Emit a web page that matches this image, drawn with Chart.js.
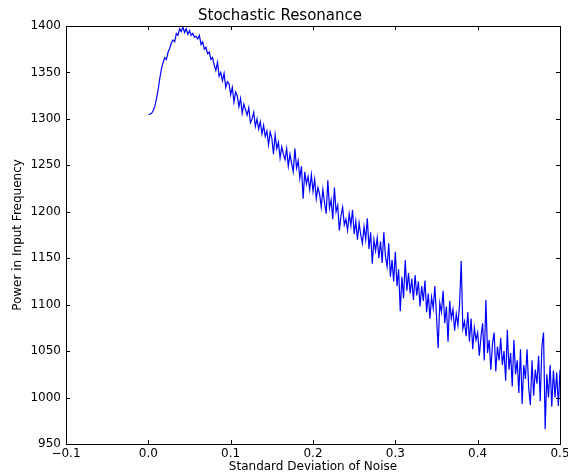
<!DOCTYPE html>
<html>
<head>
<meta charset="utf-8">
<title>Stochastic Resonance</title>
<script src="https://cdn.jsdelivr.net/npm/chart.js@4/dist/chart.umd.min.js"></script>
<style>
    html, body { margin: 0; padding: 0; background: #fff; }
    canvas { display: block; }
</style>
</head>
<body>
<canvas id="chart" width="568" height="474"></canvas>
<script>
// Noise levels start at 0 and go up in steps of 0.002
const noiseStart = 0;
const noiseStep = 0.002;

// Power in the input frequency
const powerValues = [
    1305, 1305, 1306, 1309, 1314, 1322, 1332, 1344, 1354, 1361,
    1366, 1364, 1372, 1376, 1382, 1385, 1383, 1392, 1390, 1397,
    1394, 1399, 1393, 1397, 1391, 1395, 1390, 1392, 1388, 1389,
    1386, 1390, 1380, 1383, 1375, 1377, 1370, 1372, 1364, 1366,
    1358, 1352, 1361, 1346, 1350, 1341, 1349, 1334, 1340, 1338,
    1326, 1334, 1318, 1329, 1325, 1313, 1322, 1306, 1316, 1310,
    1304, 1312, 1296, 1300, 1307, 1292, 1300, 1289, 1297, 1284,
    1293, 1281, 1287, 1272, 1286, 1279, 1262, 1283, 1268, 1275,
    1258, 1270, 1262, 1256, 1268, 1249, 1262, 1252, 1243, 1268,
    1247, 1255, 1236, 1249, 1214, 1243, 1230, 1238, 1224, 1240,
    1222, 1235, 1214, 1226, 1219, 1205, 1224, 1210, 1198, 1234,
    1204, 1213, 1192, 1226, 1200, 1207, 1180, 1196, 1205, 1186,
    1192, 1180, 1198, 1185, 1202, 1176, 1190, 1170, 1188, 1175,
    1166, 1184, 1170, 1193, 1160, 1178, 1144, 1170, 1158, 1172,
    1150, 1168, 1145, 1178, 1152, 1141, 1166, 1130, 1148, 1125,
    1157, 1120, 1138, 1093, 1130, 1107, 1148, 1115, 1134, 1112,
    1128, 1105, 1132, 1110, 1125, 1098, 1120, 1104, 1126, 1092,
    1112, 1085, 1108, 1096, 1120, 1088, 1053, 1102, 1092, 1115,
    1080, 1098, 1060, 1104, 1085, 1095, 1072, 1090, 1078, 1100,
    1147, 1074, 1082, 1066, 1092, 1060, 1085, 1052, 1075, 1062,
    1070, 1045, 1065, 1080, 1040, 1105, 1048, 1062, 1030, 1058,
    1070, 1028, 1055, 1040, 1064, 1035, 1050, 1018, 1073, 1030,
    1048, 1012, 1062, 1025, 1040, 1005, 1052, 993, 1035, 1020,
    1052, 1010, 992, 1040, 1002, 1030, 1015, 1045, 996, 1055,
    1070, 966, 1025, 1000, 1035, 990, 1029, 1000, 1027, 991,
    1030
];

// Axis ranges and ticks
const xTicks = [-0.1, 0.0, 0.1, 0.2, 0.3, 0.4, 0.5];
const yTicks = [950, 1000, 1050, 1100, 1150, 1200, 1250, 1300, 1350, 1400];

const points = powerValues.map((p, i) => ({ x: noiseStart + i * noiseStep, y: p }));

const FONT = 'DejaVu Sans';

// matplotlib style frame with ticks pointing inward on all four sides
const framePlugin = {
    id: 'frame',
    afterDraw(chart) {
        const { ctx, chartArea: a, scales } = chart;
        const len = 4;
        ctx.save();
        ctx.strokeStyle = '#000';
        ctx.lineWidth = 1;
        ctx.beginPath();
        xTicks.forEach(v => {
            const px = Math.round(scales.x.getPixelForValue(v)) + 0.5;
            ctx.moveTo(px, a.bottom); ctx.lineTo(px, a.bottom - len);
            ctx.moveTo(px, a.top); ctx.lineTo(px, a.top + len);
        });
        yTicks.forEach(v => {
            const py = Math.round(scales.y.getPixelForValue(v)) + 0.5;
            ctx.moveTo(a.left, py); ctx.lineTo(a.left + len, py);
            ctx.moveTo(a.right, py); ctx.lineTo(a.right - len, py);
        });
        ctx.stroke();
        ctx.strokeRect(Math.round(a.left) + 0.5, Math.round(a.top) + 0.5,
            Math.round(a.right - a.left), Math.round(a.bottom - a.top));
        ctx.restore();
    }
};

new Chart(document.getElementById('chart').getContext('2d'), {
    type: 'line',
    data: {
        datasets: [{
            data: points,
            borderColor: 'rgb(0, 0, 255)',
            borderWidth: 1.2,
            pointRadius: 0,
            tension: 0,
            fill: false
        }]
    },
    options: {
        responsive: false,
        devicePixelRatio: 1,
        animation: false,
        layout: { padding: { left: 0, right: 8, top: 0, bottom: 0 } },
        plugins: {
            legend: { display: false },
            tooltip: { enabled: false },
            title: {
                display: true,
                text: 'Stochastic Resonance',
                color: '#000',
                font: { family: FONT, size: 15, weight: 'normal' },
                padding: { top: 7, bottom: 1 }
            }
        },
        scales: {
            x: {
                type: 'linear',
                min: -0.1,
                max: 0.5,
                grid: { display: false, drawTicks: false },
                border: { display: false },
                afterBuildTicks: scale => { scale.ticks = xTicks.map(v => ({ value: v })); },
                afterFit: scale => {
                    scale.height = 30;
                    scale.paddingLeft = 0;
                    scale.paddingRight = 0;
                },
                ticks: {
                    autoSkip: false,
                    maxRotation: 0,
                    padding: 3,
                    color: '#000',
                    font: { family: FONT, size: 12 },
                    callback: v => v.toFixed(1).replace('-', '\u2212')
                },
                title: {
                    display: true,
                    text: 'Standard Deviation of Noise',
                    color: '#000',
                    font: { family: FONT, size: 12 },
                    padding: { top: 0, bottom: 0 }
                }
            },
            y: {
                min: 950,
                max: 1400,
                grid: { display: false, drawTicks: false },
                border: { display: false },
                afterBuildTicks: scale => { scale.ticks = yTicks.map(v => ({ value: v })); },
                afterFit: scale => {
                    scale.width = 66;
                    scale.paddingTop = 0;
                    scale.paddingBottom = 0;
                },
                ticks: {
                    padding: 5,
                    color: '#000',
                    font: { family: FONT, size: 12 },
                    callback: v => String(v)
                },
                title: {
                    display: true,
                    text: 'Power in Input Frequency',
                    color: '#000',
                    font: { family: FONT, size: 12 },
                    padding: { top: 11, bottom: 0 }
                }
            }
        }
    },
    plugins: [framePlugin]
});
</script>
</body>
</html>
